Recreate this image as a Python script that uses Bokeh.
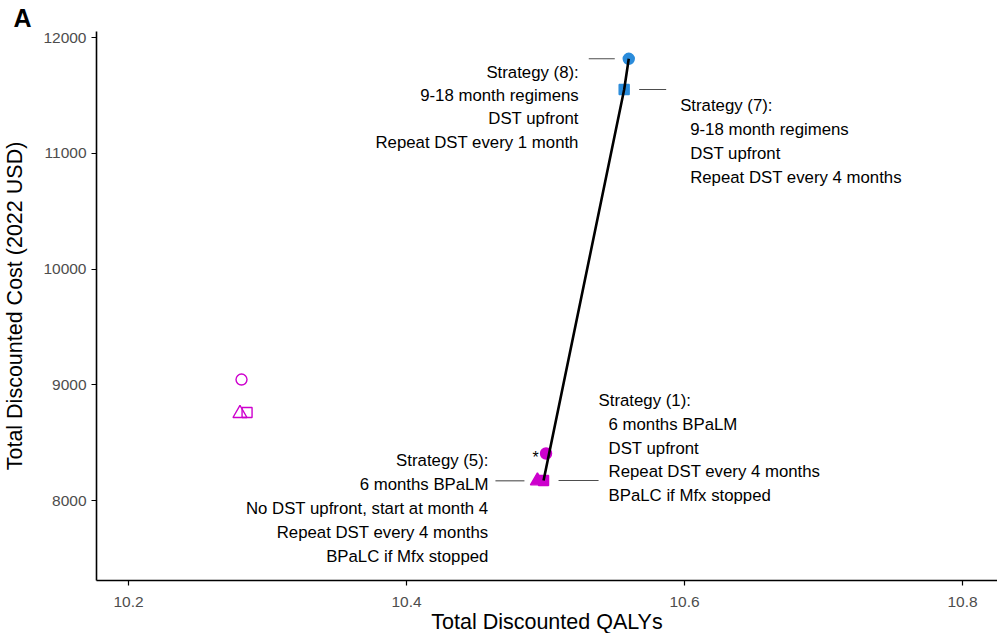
from bokeh.plotting import figure
from bokeh.models import Range1d, FixedTicker, ColumnDataSource, Title
from bokeh.core.properties import value
from bokeh.embed import file_html
from bokeh.resources import INLINE

# ---------------- data ----------------
strategy = ["Strategy (1)", "Strategy (2)", "Strategy (3)", "Strategy (4)",
            "Strategy (5)", "Strategy (6)", "Strategy (7)", "Strategy (8)"]
qalys = [10.4986, 10.5004, 10.2853, 10.2802, 10.4942, 10.2813, 10.5566, 10.5599]
cost = [8173, 8406, 8760, 8752, 8170, 9045, 11551, 11816]
shape = ["square", "circle", "square", "triangle", "triangle", "circle", "square", "circle"]
filled = [True, True, False, False, True, False, True, True]
regimen = ["BPaLM", "BPaLM", "BPaLM", "BPaLM", "BPaLM", "BPaLM", "9-18 month", "9-18 month"]

frontier = ["Strategy (1)", "Strategy (7)", "Strategy (8)"]
starred = ["Strategy (2)"]

x_ticks = [10.2, 10.4, 10.6, 10.8]
y_ticks = [8000, 9000, 10000, 11000, 12000]

labelled = ["Strategy (8)", "Strategy (7)", "Strategy (1)", "Strategy (5)"]
label_lines = {
    "Strategy (8)": ["Strategy (8):", "9-18 month regimens", "DST upfront", "Repeat DST every 1 month"],
    "Strategy (7)": ["Strategy (7):", "9-18 month regimens", "DST upfront", "Repeat DST every 4 months"],
    "Strategy (1)": ["Strategy (1):", "6 months BPaLM", "DST upfront", "Repeat DST every 4 months", "BPaLC if Mfx stopped"],
    "Strategy (5)": ["Strategy (5):", "6 months BPaLM", "No DST upfront, start at month 4", "Repeat DST every 4 months", "BPaLC if Mfx stopped"],
}

# ---------------- styling / layout ----------------
colors = {"BPaLM": "#CD00CD", "9-18 month": "#2B8CDB"}
sizes = {"circle": 11, "square": 10, "triangle": 14}
FONT = "Liberation Sans"

TOP, LEFT, BOTTOM = 31, 95, 50
FW, FH = 901, 549
X0 = 10.17698
X1 = X0 + FW / 1390.0
Y1 = 12000 + (37 - TOP) / 0.11575
Y0 = Y1 - FH / 0.11575
PXX = FW / (X1 - X0)
PXY = FH / (Y1 - Y0)

# label placements in pixels relative to the point:
# (first-line dx, other-lines dx, align, first dy, line step, leader dx0, leader dx1)
placement = {
    "Strategy (8)": (-50, -50, "right", 13.4, 23.4, -40, -14),
    "Strategy (7)": (56, 66, "left", 16, 24, 15, 42),
    "Strategy (1)": (55, 65, "left", -80, 23.8, 15, 55),
    "Strategy (5)": (-49, -49, "right", -20, 23.8, -42, -13),
}

p = figure(frame_width=FW, frame_height=FH, output_backend="svg", toolbar_location=None,
           x_range=Range1d(X0, X1), y_range=Range1d(Y0, Y1),
           min_border_left=LEFT, min_border_top=TOP, min_border_right=0, min_border_bottom=BOTTOM)
p.outline_line_color = None
p.xgrid.visible = False
p.ygrid.visible = False
p.background_fill_color = "white"
p.border_fill_color = "white"

for ax in (p.xaxis[0], p.yaxis[0]):
    ax.axis_line_color = "black"
    ax.axis_line_width = 1.6
    ax.major_tick_line_color = "black"
    ax.major_tick_line_width = 1.2
    ax.major_tick_out = 5
    ax.major_tick_in = 0
    ax.minor_tick_line_color = None
    ax.major_label_text_font = FONT
    ax.major_label_text_font_size = "15.5px"
    ax.major_label_text_color = "#4D4D4D"
    ax.axis_label_text_font = FONT
    ax.axis_label_text_font_size = "21.5px"
    ax.axis_label_text_font_style = "normal"
    ax.axis_label_text_color = "black"
p.xaxis.ticker = FixedTicker(ticks=x_ticks)
p.yaxis.ticker = FixedTicker(ticks=y_ticks)
p.xaxis.axis_label = "Total Discounted QALYs"
p.yaxis.axis_label = "Total Discounted Cost (2022 USD)"
p.xaxis.major_label_standoff = 11
p.yaxis.major_label_standoff = 5
p.xaxis.axis_label_standoff = 0
p.yaxis.axis_label_standoff = 13

# points
src = ColumnDataSource(dict(
    x=qalys, y=cost, marker=shape,
    size=[sizes[s] for s in shape],
    line=[colors[r] for r in regimen],
    fill=[colors[r] if f else None for r, f in zip(regimen, filled)],
))
p.scatter("x", "y", marker="marker", size="size", source=src,
          line_color="line", fill_color="fill", line_width=1.4)

# frontier line
idx = {s: i for i, s in enumerate(strategy)}
p.line([qalys[idx[s]] for s in frontier], [cost[idx[s]] for s in frontier],
       line_color="black", line_width=2.6)

# asterisk
p.text([qalys[idx[s]] for s in starred], [cost[idx[s]] for s in starred], text=["*"] * len(starred),
       x_offset=-10.5, y_offset=4, text_align="center", text_baseline="middle",
       text_font=value(FONT), text_font_size="16px", text_color="black")

# labels + leader lines
tx, ty, tt, txo, tyo, ta = [], [], [], [], [], []
sx0, sx1, sy = [], [], []
for s in labelled:
    dx_first, dx_rest, align, dy0, step, l0, l1 = placement[s]
    px, py = qalys[idx[s]], cost[idx[s]]
    for k, line in enumerate(label_lines[s]):
        tx.append(px); ty.append(py); tt.append(line)
        txo.append(dx_first if k == 0 else dx_rest)
        tyo.append(dy0 + k * step)
        ta.append(align)
    sx0.append(px + l0 / PXX); sx1.append(px + l1 / PXX); sy.append(py)

p.segment(x0=sx0, y0=sy, x1=sx1, y1=sy, line_color="#4D4D4D", line_width=1.1)
lab_src = ColumnDataSource(dict(x=tx, y=ty, text=tt, xo=txo, yo=tyo, align=ta))
p.text("x", "y", text="text", x_offset="xo", y_offset="yo", text_align="align",
       text_baseline="middle", source=lab_src, text_font=value(FONT),
       text_font_size="16.8px", text_color="black")

# panel tag
p.add_layout(Title(text="A", align="left", offset=-83, standoff=0,
                   text_font=FONT, text_font_style="bold", text_font_size="25px",
                   text_color="black"), "above")

open("out.html", "w").write(file_html(p, INLINE))
